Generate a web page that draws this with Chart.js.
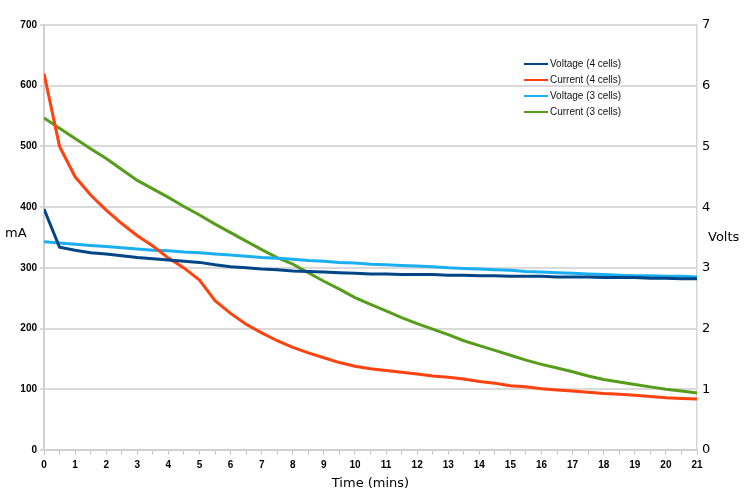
<!DOCTYPE html>
<html lang="en">
<head>
    <meta charset="UTF-8">
    <title>Battery discharge</title>
    <script src="https://cdn.jsdelivr.net/npm/chart.js"></script>
    <style>
        html, body { margin: 0; padding: 0; background: #fff; }
        #wrap { width: 750px; height: 497px; }
    </style>
</head>
<body>
    <div id="wrap"><canvas id="grafico" width="750" height="497"></canvas></div>

    <script>
        // time in minutes (one reading every 30 s)
        const times = [0, 0.5, 1, 1.5, 2, 2.5, 3, 3.5, 4, 4.5, 5, 5.5, 6, 6.5, 7, 7.5, 8, 8.5, 9, 9.5, 10,
            10.5, 11, 11.5, 12, 12.5, 13, 13.5, 14, 14.5, 15, 15.5, 16, 16.5, 17, 17.5, 18, 18.5, 19, 19.5, 20, 20.5, 21];

        // Volts
        const voltage4 = [3.97, 3.34, 3.29, 3.25, 3.23, 3.20, 3.17, 3.15, 3.13, 3.11, 3.09, 3.05, 3.02, 3.00, 2.98, 2.97,
            2.95, 2.94, 2.93, 2.92, 2.91, 2.90, 2.90, 2.89, 2.89, 2.89, 2.88, 2.88, 2.87, 2.87, 2.86, 2.86,
            2.86, 2.85, 2.85, 2.85, 2.84, 2.84, 2.84, 2.83, 2.83, 2.82, 2.82];
        // mA
        const current4 = [620, 500, 450, 420, 395, 373, 353, 336, 316, 300, 280, 246, 225, 207, 193, 180,
            169, 160, 152, 144, 138, 134, 131, 128, 125, 122, 120, 117, 113, 110, 106, 104,
            101, 99, 97, 95, 93, 92, 90, 88, 86, 85, 84];
        // Volts
        const voltage3 = [3.43, 3.41, 3.39, 3.37, 3.35, 3.33, 3.31, 3.29, 3.28, 3.26, 3.25, 3.23, 3.21, 3.19, 3.17, 3.16,
            3.14, 3.12, 3.11, 3.09, 3.08, 3.06, 3.05, 3.04, 3.03, 3.02, 3.00, 2.99, 2.98, 2.97, 2.96, 2.94,
            2.93, 2.92, 2.91, 2.90, 2.89, 2.88, 2.87, 2.87, 2.86, 2.86, 2.85];
        // mA
        const current3 = [547, 530, 513, 496, 480, 462, 444, 430, 416, 401, 387, 372, 358, 344, 330, 317,
            306, 292, 278, 265, 251, 240, 229, 218, 208, 199, 190, 180, 172, 164, 156, 148,
            141, 135, 129, 122, 116, 112, 108, 104, 100, 97, 94];

        const seriesNames = ['Voltage (4 cells)', 'Current (4 cells)', 'Voltage (3 cells)', 'Current (3 cells)'];
        const seriesColors = ['#004586', '#ff420e', '#1aaff0', '#579d1c'];

        function pontos(valores) {
            return times.map((t, i) => ({ x: t, y: valores[i] }));
        }

        function serie(idx, valores, eixo) {
            return {
                label: seriesNames[idx],
                data: pontos(valores),
                borderColor: seriesColors[idx],
                backgroundColor: seriesColors[idx],
                borderWidth: 3,
                pointRadius: 0,
                tension: 0,
                yAxisID: eixo
            };
        }

        // axis titles and legend drawn by hand (horizontal titles, legend inside the plot)
        const extras = {
            id: 'extras',
            afterDraw(chart) {
                const ctx = chart.ctx;
                const area = chart.chartArea;
                ctx.save();
                ctx.fillStyle = '#000';
                ctx.textBaseline = 'middle';
                ctx.font = '13px "DejaVu Sans"';
                ctx.textAlign = 'left';
                ctx.fillText('mA', 5, 234);
                ctx.fillText('Volts', area.right + 11, 238);
                ctx.textAlign = 'center';
                ctx.fillText('Time (mins)', (area.left + area.right) / 2, 484);

                // legend
                ctx.font = '10px "Liberation Sans"';
                ctx.textAlign = 'left';
                chart.data.datasets.forEach((ds, i) => {
                    const y = 64 + i * 16;
                    ctx.strokeStyle = ds.borderColor;
                    ctx.lineWidth = 2;
                    ctx.beginPath();
                    ctx.moveTo(524, y);
                    ctx.lineTo(548, y);
                    ctx.stroke();
                    ctx.fillStyle = '#111';
                    ctx.fillText(ds.label, 550, y);
                });
                ctx.restore();
            }
        };

        const ctx = document.getElementById('grafico').getContext('2d');
        new Chart(ctx, {
            type: 'line',
            data: {
                datasets: [
                    serie(0, voltage4, 'yV'),
                    serie(1, current4, 'yA'),
                    serie(2, voltage3, 'yV'),
                    serie(3, current3, 'yA')
                ]
            },
            options: {
                responsive: false,
                animation: false,
                layout: { padding: { top: 25, left: 0, right: 0, bottom: 0 } },
                plugins: {
                    legend: { display: false },
                    tooltip: { enabled: false }
                },
                scales: {
                    x: {
                        type: 'linear',
                        min: 0,
                        max: 21,
                        afterFit(scale) { scale.height = 47; },
                        grid: { drawOnChartArea: false, color: '#c8c8c8', tickLength: 5, lineWidth: 1 },
                        border: { color: '#d0d0d0', width: 2 },
                        ticks: {
                            stepSize: 0.5,
                            autoSkip: false,
                            maxRotation: 0,
                            color: '#000',
                            padding: 4,
                            font: { family: '"Liberation Sans"', size: 10, weight: 'bold' },
                            callback: v => Number.isInteger(v) ? String(v) : ''
                        }
                    },
                    yA: {
                        position: 'left',
                        min: 0,
                        max: 700,
                        afterFit(scale) { scale.width = 44; },
                        grid: { color: '#dadada', lineWidth: 2, tickLength: 4 },
                        border: { color: '#d0d0d0', width: 2 },
                        ticks: {
                            stepSize: 100,
                            color: '#000',
                            padding: 3,
                            font: { family: '"Liberation Sans"', size: 10, weight: 'bold' }
                        }
                    },
                    yV: {
                        position: 'right',
                        min: 0,
                        max: 7,
                        afterFit(scale) { scale.width = 53; },
                        grid: { drawOnChartArea: false, drawTicks: false },
                        border: { color: '#d6d6d6', width: 1.5 },
                        ticks: {
                            stepSize: 1,
                            color: '#000',
                            padding: 5,
                            font: { family: '"DejaVu Sans"', size: 13 }
                        }
                    }
                }
            },
            plugins: [extras]
        });
    </script>
</body>
</html>
